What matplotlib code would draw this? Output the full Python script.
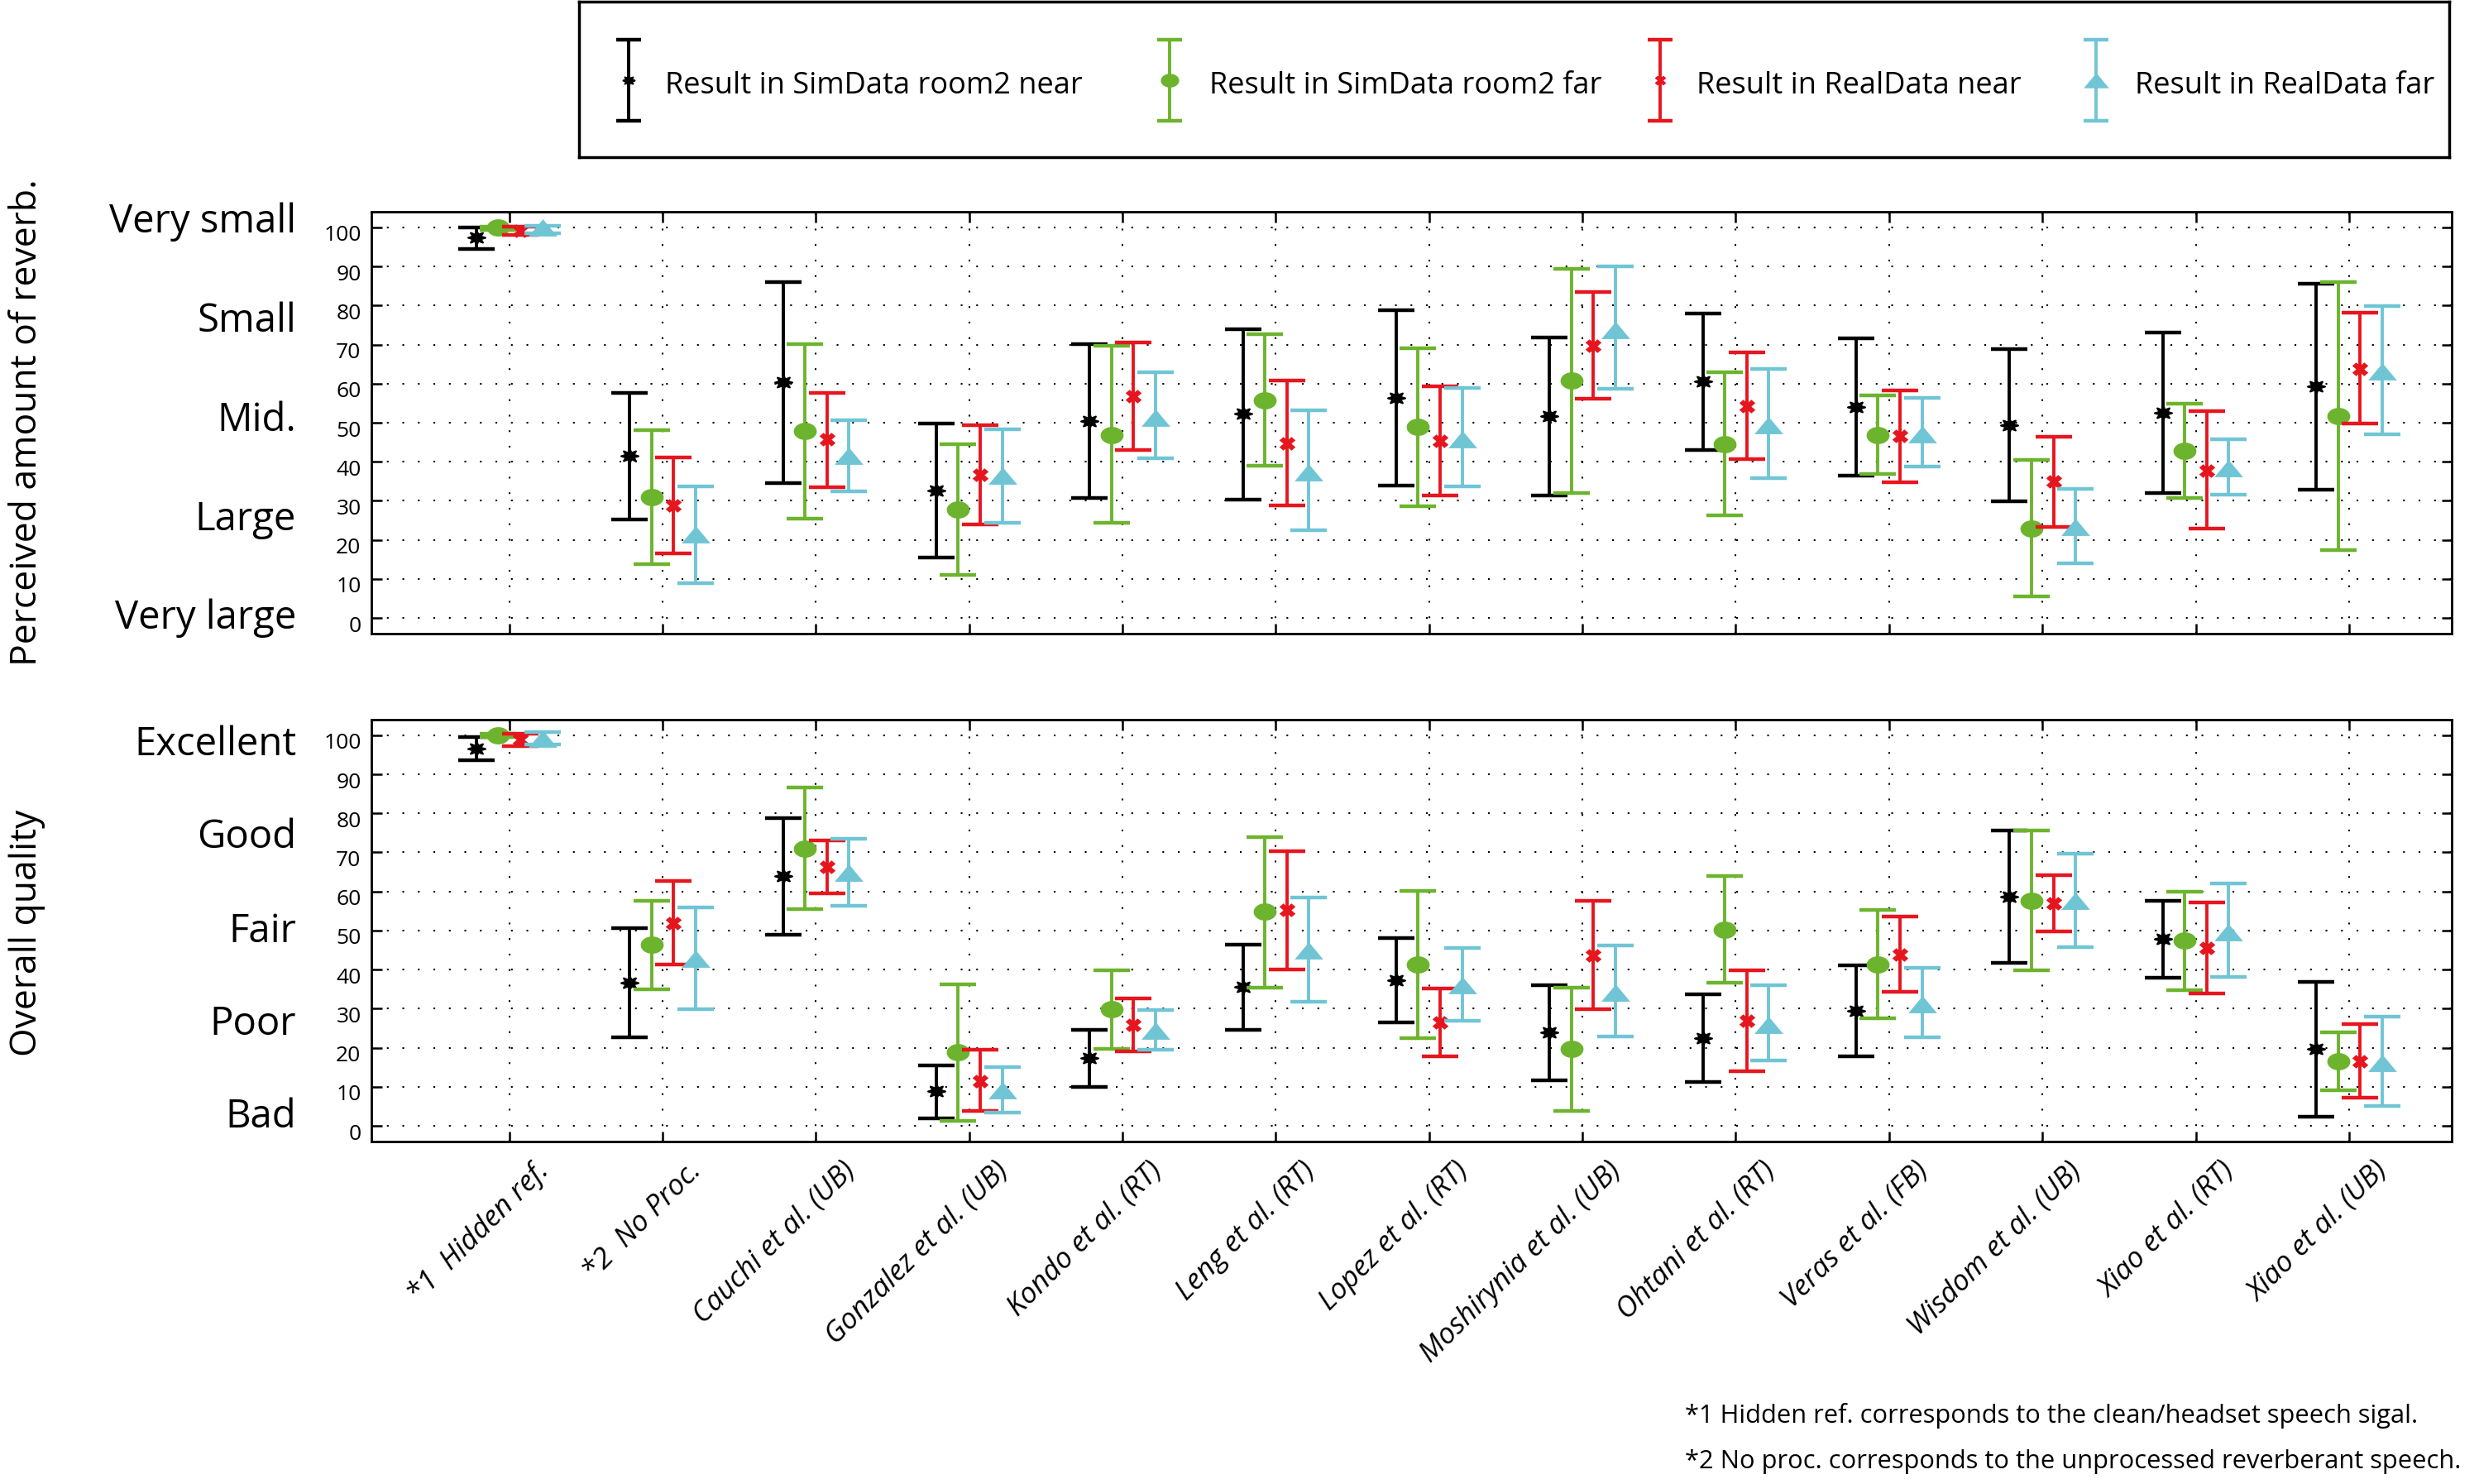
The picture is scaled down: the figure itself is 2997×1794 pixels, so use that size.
import numpy as np
import matplotlib
matplotlib.use('Agg')
import matplotlib.pyplot as plt
from matplotlib.path import Path
from matplotlib.markers import MarkerStyle
from matplotlib.transforms import ScaledTranslation, blended_transform_factory

plt.rcParams['font.family'] = ['Open Sans', 'DejaVu Sans']

methods = ['*1  Hidden ref.', '*2  No Proc.', 'Cauchi et al. (UB)', 'Gonzalez et al. (UB)',
           'Kondo et al. (RT)', 'Leng et al. (RT)', 'Lopez et al. (RT)', 'Moshirynia et al. (UB)',
           'Ohtani et al. (RT)', 'Veras et al. (FB)', 'Wisdom et al. (UB)', 'Xiao et al. (RT)',
           'Xiao et al. (UB)']
series_names = ['Result in SimData room2 near', 'Result in SimData room2 far',
                'Result in RealData near', 'Result in RealData far']

# perceived amount of reverberation: mean, lower, upper
rev_sim_near = [97.4, 41.5, 60.3, 32.7, 50.5, 52.3, 56.4, 51.6, 60.5, 54.1, 49.3, 52.6, 59.3]
rev_sim_near_lo = [94.4, 25.2, 34.6, 15.5, 30.7, 30.3, 34.0, 31.3, 43.1, 36.5, 29.8, 32.1, 32.9]
rev_sim_near_hi = [100.0, 57.7, 86.0, 49.8, 70.2, 74.0, 78.7, 71.9, 77.9, 71.7, 68.9, 73.1, 85.5]

rev_sim_far = [100.0, 31.0, 47.9, 27.8, 46.9, 55.7, 48.9, 60.7, 44.6, 46.9, 23.0, 42.8, 51.8]
rev_sim_far_lo = [99.4, 13.8, 25.5, 11.0, 24.3, 38.9, 28.6, 32.1, 26.2, 36.8, 5.5, 30.7, 17.3]
rev_sim_far_hi = [100.2, 48.1, 70.2, 44.4, 69.8, 72.6, 69.1, 89.3, 62.9, 57.0, 40.5, 54.8, 86.1]

rev_real_near = [99.2, 28.9, 45.7, 36.7, 56.8, 44.8, 45.3, 69.8, 54.2, 46.6, 34.9, 37.8, 63.8]
rev_real_near_lo = [98.0, 16.5, 33.5, 24.0, 43.1, 28.9, 31.4, 56.1, 40.6, 34.8, 23.4, 22.8, 49.7]
rev_real_near_hi = [100.2, 41.2, 57.7, 49.3, 70.5, 60.7, 59.3, 83.5, 67.9, 58.3, 46.4, 52.9, 78.1]

rev_real_far = [100.0, 21.5, 41.5, 36.4, 51.2, 37.3, 45.8, 73.8, 49.3, 47.1, 23.4, 38.4, 63.2]
rev_real_far_lo = [98.6, 9.0, 32.4, 24.3, 40.9, 22.5, 33.6, 58.6, 35.8, 38.7, 14.0, 31.6, 47.1]
rev_real_far_hi = [100.3, 33.8, 50.7, 48.3, 63.0, 53.1, 58.9, 90.1, 63.8, 56.4, 33.0, 45.7, 79.8]

# overall quality: mean, lower, upper
qual_sim_near = [96.6, 36.6, 63.9, 8.8, 17.3, 35.5, 37.3, 23.9, 22.5, 29.5, 58.6, 47.9, 19.6]
qual_sim_near_lo = [93.6, 22.7, 49.0, 2.0, 10.0, 24.6, 26.4, 11.7, 11.2, 17.9, 41.7, 38.0, 2.4]
qual_sim_near_hi = [99.6, 50.7, 78.7, 15.5, 24.6, 46.4, 48.0, 36.1, 33.7, 41.0, 75.7, 57.7, 36.8]

qual_sim_far = [100.0, 46.3, 71.0, 18.9, 29.8, 54.8, 41.3, 19.6, 50.3, 41.4, 57.7, 47.4, 16.6]
qual_sim_far_lo = [99.6, 34.9, 55.4, 1.3, 19.6, 35.4, 22.5, 3.8, 36.7, 27.5, 39.8, 34.8, 9.2]
qual_sim_far_hi = [100.3, 57.6, 86.6, 36.3, 39.8, 74.0, 60.1, 35.4, 63.9, 55.3, 75.7, 60.0, 23.9]

qual_real_near = [98.8, 51.9, 66.2, 11.5, 25.9, 55.2, 26.4, 43.7, 27.0, 43.9, 56.9, 45.5, 16.6]
qual_real_near_lo = [97.2, 41.3, 59.6, 3.9, 19.1, 40.1, 17.8, 29.8, 14.0, 34.4, 49.7, 33.9, 7.3]
qual_real_near_hi = [100.4, 62.6, 73.0, 19.4, 32.7, 70.3, 35.2, 57.7, 39.9, 53.5, 64.1, 57.2, 26.0]

qual_real_far = [99.1, 42.8, 64.9, 9.1, 24.3, 45.0, 36.0, 34.2, 25.9, 31.1, 57.6, 49.6, 16.2]
qual_real_far_lo = [97.6, 29.8, 56.4, 3.5, 19.4, 31.7, 27.0, 22.8, 16.7, 22.7, 45.8, 38.2, 5.0]
qual_real_far_hi = [100.9, 55.9, 73.5, 15.0, 29.6, 58.5, 45.5, 46.1, 36.0, 40.4, 69.6, 62.1, 27.9]

rev_scale = ['Very small', 'Small', 'Mid.', 'Large', 'Very large']
qual_scale = ['Excellent', 'Good', 'Fair', 'Poor', 'Bad']

colors = ['#000000', '#6cb42d', '#e6161f', '#70c5d5']


def squash(marker, sy):
    ms = MarkerStyle(marker)
    p = ms.get_path().transformed(ms.get_transform())
    return Path(p.vertices * np.array([1.0, sy]), p.codes)


t = np.linspace(0, 2 * np.pi, 60)
ellipse = Path(np.column_stack([np.cos(t), 0.75 * np.sin(t)]), closed=True)
flat_tri = Path([(-1, -0.6), (1, -0.6), (0, 0.6), (-1, -0.6)], closed=True)
markers = [squash((8, 1, 0), 0.8), ellipse, squash('X', 0.85), flat_tri]
msizes = [15, 20, 14, 25]
medges = [1.6, 0, 0, 0]
offsets = [-0.215, -0.072, 0.072, 0.215]

fig = plt.figure(figsize=(29.97, 17.94), dpi=100)
ax_top = fig.add_axes([0.1498, 0.573, 0.8392, 0.2843])
ax_bot = fig.add_axes([0.1498, 0.2308, 0.8392, 0.2843])

x = np.arange(1, len(methods) + 1)

panels = [
    (ax_top, [(rev_sim_near, rev_sim_near_lo, rev_sim_near_hi),
              (rev_sim_far, rev_sim_far_lo, rev_sim_far_hi),
              (rev_real_near, rev_real_near_lo, rev_real_near_hi),
              (rev_real_far, rev_real_far_lo, rev_real_far_hi)]),
    (ax_bot, [(qual_sim_near, qual_sim_near_lo, qual_sim_near_hi),
              (qual_sim_far, qual_sim_far_lo, qual_sim_far_hi),
              (qual_real_near, qual_real_near_lo, qual_real_near_hi),
              (qual_real_far, qual_real_far_lo, qual_real_far_hi)]),
]

label_shift = ScaledTranslation(0, -0.07, fig.dpi_scale_trans)

for ax, series in panels:
    for i, (m, lo, hi) in enumerate(series):
        m = np.array(m)
        yerr = [m - np.array(lo), np.array(hi) - m]
        ax.errorbar(x + offsets[i], m, yerr=yerr, fmt='none', ecolor=colors[i],
                    elinewidth=2.8, capsize=16, capthick=3.2, zorder=3 + i)
        ax.plot(x + offsets[i], m, linestyle='none', marker=markers[i],
                markersize=msizes[i], color=colors[i], markeredgecolor=colors[i],
                markeredgewidth=medges[i], zorder=3 + i)
    ax.set_xlim(0.1, 13.67)
    ax.set_ylim(-4, 104)
    ax.set_xticks(x)
    ax.set_yticks(np.arange(0, 101, 10))
    ax.grid(True, color='black', linestyle=(0, (1, 8)), linewidth=1.5)
    ax.set_axisbelow(True)
    ax.tick_params(direction='in', length=9, width=1.8, top=True, right=True,
                   labelsize=19, pad=9)
    for sp in ax.spines.values():
        sp.set_linewidth(2)
    for lab in ax.get_yticklabels():
        lab.set_transform(lab.get_transform() + label_shift)

ax_top.set_xticklabels([])
ax_bot.set_xticklabels(methods, rotation=45, ha='right', va='top', rotation_mode='anchor',
                       fontstyle='italic', fontsize=25)
ax_bot.tick_params(axis='x', pad=13)
xshift = ScaledTranslation(0.30, 0, fig.dpi_scale_trans)
for lab in ax_bot.get_xticklabels():
    lab.set_transform(lab.get_transform() + xshift)

# verbal scale labels next to the numeric axes
rev_pos = [101.4, 76.0, 50.6, 25.2, 0.0]
qual_pos = [97.5, 73.9, 49.8, 26.1, 2.3]
tr_top = blended_transform_factory(fig.transFigure, ax_top.transData)
tr_bot = blended_transform_factory(fig.transFigure, ax_bot.transData)
for name, yp in zip(rev_scale, rev_pos):
    ax_top.text(0.1195, yp, name, transform=tr_top, ha='right', va='center', fontsize=34)
for name, yp in zip(qual_scale, qual_pos):
    ax_bot.text(0.1195, yp, name, transform=tr_bot, ha='right', va='center', fontsize=34)

fig.text(0.011, 1 - 511 / 1794, 'Perceived amount of reverb.', rotation=90,
         ha='center', va='center', fontsize=32)
fig.text(0.011, 1 - 1128 / 1794, 'Overall quality', rotation=90,
         ha='center', va='center', fontsize=32)

# legend box
ax_leg = fig.add_axes([700 / 2997, 1 - 190 / 1794, 2261 / 2997, 188 / 1794])
ax_leg.set_xlim(0, 1)
ax_leg.set_ylim(0, 1)
ax_leg.set_xticks([])
ax_leg.set_yticks([])
for sp in ax_leg.spines.values():
    sp.set_linewidth(2.5)
handle_x = [0.0265, 0.316, 0.578, 0.811]
text_x = [0.046, 0.337, 0.5975, 0.832]
leg_msizes = [10, 16, 10, 22]
for i in range(4):
    ax_leg.errorbar([handle_x[i]], [0.495], yerr=[[0.26], [0.26]], fmt='none',
                    ecolor=colors[i], elinewidth=2.8, capsize=11, capthick=3.2)
    ax_leg.plot([handle_x[i]], [0.495], linestyle='none', marker=markers[i],
                markersize=leg_msizes[i], color=colors[i], markeredgecolor=colors[i],
                markeredgewidth=medges[i])
    ax_leg.text(text_x[i], 0.46, series_names[i], ha='left', va='center', fontsize=26)

fig.text(0.6797, 1 - 1711 / 1794,
         '*1 Hidden ref. corresponds to the clean/headset speech sigal.',
         ha='left', va='center', fontsize=22.2)
fig.text(0.6797, 1 - 1767 / 1794,
         '*2 No proc. corresponds to the unprocessed reverberant speech.',
         ha='left', va='center', fontsize=22.2)

fig.savefig('out.png', dpi=100, facecolor='white')
